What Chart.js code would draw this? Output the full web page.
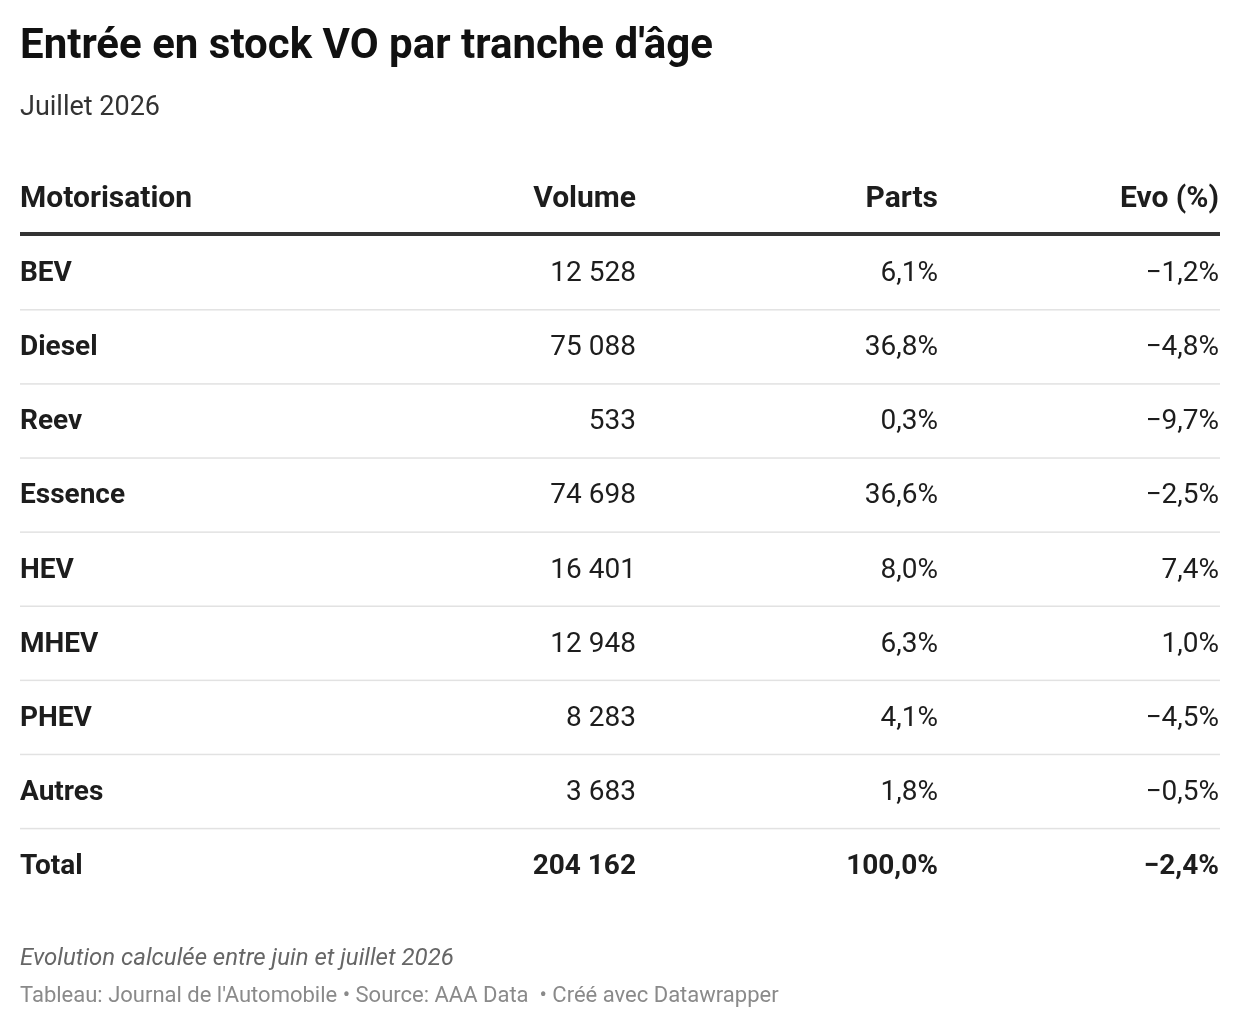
<!DOCTYPE html>
<html><head><meta charset="utf-8">
<script src="https://cdn.jsdelivr.net/npm/chart.js@4"></script>
<style>body{margin:0;background:#fff}</style></head>
<body><canvas id="c" width="1240" height="1028"></canvas>
<script>
const categories=["BEV","Diesel","Reev","Essence","HEV","MHEV","PHEV","Autres","Total"];
const volumes=["12 528","75 088","533","74 698","16 401","12 948","8 283","3 683","204 162"];
const parts=["6,1%","36,8%","0,3%","36,6%","8,0%","6,3%","4,1%","1,8%","100,0%"];
const evo=["−1,2%","−4,8%","−9,7%","−2,5%","7,4%","1,0%","−4,5%","−0,5%","−2,4%"];
const headers=["Motorisation","Volume","Parts","Evo (%)"];
const F="Roboto, 'Liberation Sans', sans-serif";
const tablePlugin={id:'table',afterDraw(ch){
 const c=ch.ctx, y=ch.scales.y;
 c.save();c.textBaseline='middle';c.fillStyle='#111';
 c.font='bold 42px '+F;c.textAlign='left';c.fillText("Entrée en stock VO par tranche d'âge",20,47);
 c.font='27px '+F;c.fillStyle='#333';c.fillText("Juillet 2026",20,108);
 const cols=[[20,'left'],[636,'right'],[938,'right'],[1219,'right']];
 c.font='bold 30px '+F;c.fillStyle='#1d1d1d';
 headers.forEach((h,i)=>{c.textAlign=cols[i][1];c.fillText(h,cols[i][0],199);});
 c.fillStyle='#333';c.fillRect(20,232,1200,4);
 categories.forEach((cat,i)=>{
  const py=y.getPixelForValue(i)+2;
  const last=i===categories.length-1;
  c.fillStyle='#1d1d1d';
  c.font='bold 28px '+F;c.textAlign='left';c.fillText(cat,20,py);
  c.font=(last?'bold ':'')+'28px '+F;c.textAlign='right';
  c.fillText(volumes[i],636,py);c.fillText(parts[i],938,py);c.fillText(evo[i],1219,py);
  if(!last){c.fillStyle='#e2e2e2';c.fillRect(20,py+35,1200,1.5);}
 });
 c.textAlign='left';c.fillStyle='#666';c.font='italic 24px '+F;
 c.fillText("Evolution calculée entre juin et juillet 2026",20,959);
 c.fillStyle='#8a8a8a';c.font='22px '+F;
 c.fillText("Tableau: Journal de l'Automobile • Source: AAA Data  • Créé avec Datawrapper",20,996);
 c.restore();
}};
new Chart(document.getElementById('c'),{
 type:'bar',
 data:{labels:categories,datasets:[{data:categories.map(()=>0),backgroundColor:'rgba(0,0,0,0)'}]},
 options:{indexAxis:'y',responsive:false,animation:false,
  layout:{padding:{top:235,bottom:126,left:20,right:20}},
  plugins:{legend:{display:false},tooltip:{enabled:false}},
  scales:{x:{display:false,min:0,max:1},y:{display:false}}},
 plugins:[tablePlugin]
});
</script></body></html>
